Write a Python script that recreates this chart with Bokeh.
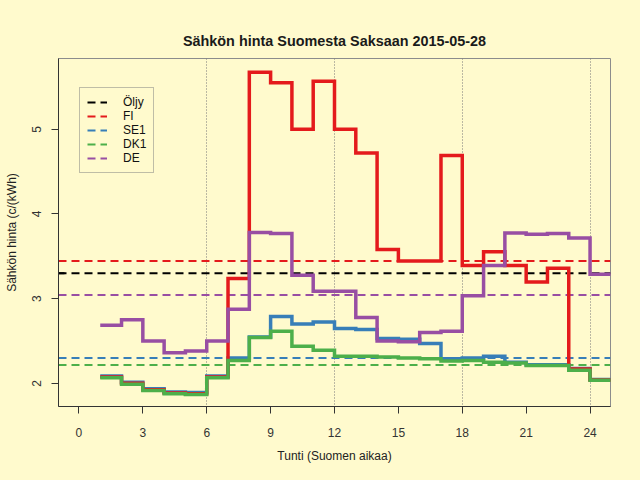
from bokeh.plotting import figure
from bokeh.models import Range1d, FixedTicker, Legend, LegendItem, GlobalInlineStyleSheet
from bokeh.embed import file_html
from bokeh.resources import INLINE

# ---- data ----
hours = list(range(1, 26))  # hour h covers [h, h+1); final point closes the last step
fi = [2.075, 2.00, 1.925, 1.886, 1.878, 2.075, 3.237, 5.673, 5.55, 5.00, 5.567, 5.00,
      4.72, 3.58, 3.445, 3.445, 4.69, 3.39, 3.555, 3.39, 3.197, 3.358, 2.17, 2.04]
se1 = [2.087, 2.012, 1.937, 1.898, 1.89, 2.087, 2.30, 2.547, 2.79, 2.70, 2.724, 2.646,
       2.634, 2.528, 2.52, 2.47, 2.29, 2.30, 2.32, 2.25, 2.22, 2.22, 2.175, 2.045]
dk1 = [2.065, 1.99, 1.915, 1.876, 1.868, 2.065, 2.27, 2.54, 2.614, 2.437, 2.39, 2.32,
       2.32, 2.31, 2.30, 2.29, 2.264, 2.268, 2.25, 2.24, 2.21, 2.21, 2.155, 2.035]
de = [2.685, 2.75, 2.50, 2.36, 2.38, 2.50, 2.874, 3.78, 3.77, 3.275, 3.087, 3.087,
      2.776, 2.50, 2.49, 2.60, 2.614, 3.035, 3.39, 3.775, 3.76, 3.77, 3.716, 3.287]

names = ["Öljy", "FI", "SE1", "DK1", "DE"]
averages = [3.30, 3.445, 2.30, 2.217, 3.043]
colors = ["#000000", "#E41A1C", "#377EB8", "#4DAF4A", "#984EA3"]

x_ticks = [0, 3, 6, 9, 12, 15, 18, 21, 24]
y_ticks = [2, 3, 4, 5]
guide_hours = [6, 12, 18, 24]

X_LO, X_HI = -0.96, 24.96
Y_LO, Y_HI = 1.726, 5.836

BG = "#FFFACD"
FONT = "Liberation Sans"

p = figure(width=640, height=480, x_range=Range1d(X_LO, X_HI), y_range=Range1d(Y_LO, Y_HI),
           output_backend="svg", toolbar_location=None,
           min_border_left=58, min_border_right=30, min_border_top=58, min_border_bottom=74,
           title="Sähkön hinta Suomesta Saksaan 2015-05-28")
p.stylesheets = [GlobalInlineStyleSheet(css="html, body { background-color: %s; }" % BG)]

p.background_fill_color = BG
p.border_fill_color = BG
p.outline_line_color = "#8c8c8c"
p.outline_line_width = 1
p.xgrid.grid_line_color = None
p.ygrid.grid_line_color = None

p.title.text_font = FONT
p.title.text_font_size = "14.4px"
p.title.text_font_style = "bold"
p.title.text_color = "#1a1a1a"
p.title.align = "center"
p.title.standoff = 20

for ax in (p.xaxis[0], p.yaxis[0]):
    ax.axis_line_color = "#333333"
    ax.major_tick_line_color = "#333333"
    ax.major_tick_out = 7
    ax.major_tick_in = 0
    ax.minor_tick_line_color = None
    ax.major_label_text_font = FONT
    ax.major_label_text_font_size = "12px"
    ax.major_label_text_color = "#333333"
    ax.axis_label_text_font = FONT
    ax.axis_label_text_font_size = "12px"
    ax.axis_label_text_font_style = "normal"
    ax.axis_label_text_color = "#222222"

p.xaxis.ticker = FixedTicker(ticks=x_ticks)
p.yaxis.ticker = FixedTicker(ticks=y_ticks)
p.xaxis.axis_label = "Tunti (Suomen aikaa)"
p.yaxis.axis_label = "Sähkön hinta (c/(kWh)"
p.xaxis.major_label_standoff = 14
p.xaxis.axis_label_standoff = 9
p.yaxis.major_label_orientation = "vertical"
p.yaxis.major_label_standoff = 10
p.yaxis.axis_label_standoff = 11

# vertical dotted guides
p.vspan(x=guide_hours, line_color="#777777", line_dash="1 2", line_width=1)

# average (dashed) lines
avg_renderers = []
for avg, col in zip(averages, colors):
    r = p.line(x=[X_LO, X_HI], y=[avg, avg], line_color=col, line_dash="8 5", line_width=2)
    avg_renderers.append(r)

# hourly price steps
for vals, col in ((se1, colors[2]), (fi, colors[1]), (dk1, colors[3]), (de, colors[4])):
    p.step(x=hours, y=vals + [vals[-1]], mode="after", line_color=col, line_width=3.5,
           line_join="miter")

# short coloured marks at the left axis for the averages
p.scatter(x=[X_LO] * len(averages), y=averages, marker="dash", size=12,
          line_color=colors, line_width=2)

legend = Legend(items=[LegendItem(label=n, renderers=[r]) for n, r in zip(names, avg_renderers)],
                location=(21, 233), margin=0, padding=7, spacing=0,
                glyph_width=20, glyph_height=14, label_height=14, label_standoff=16,
                label_text_font=FONT, label_text_font_size="12px", label_text_color="#111111",
                border_line_color="#7f7f7f", border_line_width=1,
                background_fill_color=BG, background_fill_alpha=1.0)
p.add_layout(legend)

open("out.html", "w").write(file_html(p, INLINE))
